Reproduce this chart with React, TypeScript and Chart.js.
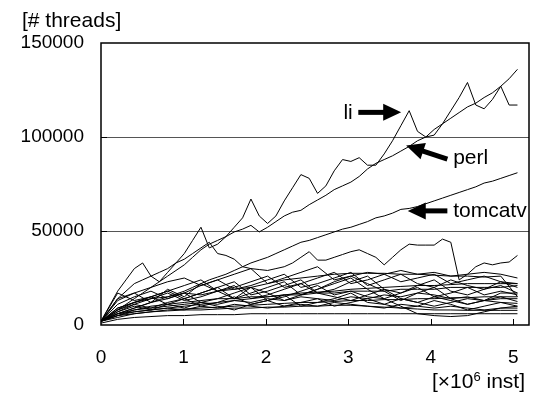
import React, { useEffect, useRef } from 'react';
import { Chart, registerables } from 'chart.js';

Chart.register(...registerables);

// ---- text ----
const Y_TITLE = '[# threads]';
const X_TITLE_MAIN = '[×10';
const X_TITLE_SUP = '6';
const X_TITLE_TAIL = ' inst]';

// ---- ticks ----
const X_TICKS = [0, 1, 2, 3, 4, 5];
const Y_TICKS = [0, 50000, 100000, 150000];
const GRID_VALUES = [50000, 100000];

// ---- sample spacing (x in 10^6 inst) ----
const FINE_STEP = 0.101;
const COARSE_STEP = 0.202;

// ---- labelled series (values in thousands of threads) ----
const LI = [2, 10, 18, 24, 30, 33, 26, 23, 28, 33, 38, 45, 52, 41, 43, 47, 52, 57, 67, 58, 54, 58, 66, 73, 80, 78, 70, 74, 82, 88, 87, 89, 85, 85, 91, 98, 106, 114, 103, 100, 101, 107, 114, 121, 129, 117, 115, 120, 127, 117, 117];
const PERL = [2, 5, 8, 11, 14, 17, 20, 23, 26, 29, 32, 36, 40, 43, 45, 47, 49.5, 51, 53, 49.5, 52, 55, 58, 60, 61, 64, 66.5, 69, 72, 74, 76, 79, 83, 86, 88, 90, 92.5, 95, 98, 100, 104, 107, 110, 113, 116, 118, 121, 123.5, 127, 131, 136];
const TOMCATV = [2, 4, 6, 7.5, 9, 10.5, 12, 13.5, 15, 16.5, 18, 20, 22, 24, 25.5, 27, 29, 31, 33, 34.5, 36, 38, 40, 42, 44, 45, 46.5, 48, 49.5, 51, 52, 53.5, 55, 57, 58, 59.5, 61.5, 62, 63, 64.5, 66, 67.5, 69, 70.5, 72, 73.5, 75.5, 76.5, 78, 79.5, 81];
const BENCH_A = [2, 8, 14, 18, 22, 24, 26, 28, 30, 33, 35, 38, 41, 44, 38, 37, 35, 31, 30, 29.5, 29, 30, 31, 33, 36, 39, 34.5, 34.5, 36, 37.5, 39, 40, 38, 36, 32, 36, 40, 43, 42.5, 42.5, 42.5, 45.7, 44, 24, 27, 31, 33, 32, 33, 33.5, 37];

// ---- other benchmarks (coarser sampling, thousands) ----
const C1 = [2, 14, 17, 20, 23, 25, 21, 24, 27, 30, 22, 25, 28, 31, 24, 26, 28, 27, 29, 27, 28, 26, 27, 28, 27, 25];
const C2 = [2, 9, 12, 14, 15, 17, 16, 18, 19, 20, 22, 24, 25, 26, 27, 27.5, 27.5, 27.5, 27, 27, 26.5, 26, 26, 25.5, 26, 15];
const C3 = [2, 8, 12, 15, 18, 21, 24, 18, 20, 23, 26, 20, 22, 25, 28, 22, 24, 27, 23, 25, 27, 22, 24, 26, 23, 22];
const C4 = [2, 7, 11, 14, 17, 13, 15, 18, 21, 14, 16, 19, 22, 17, 19, 23, 26, 19, 17, 21, 24, 18, 16, 19, 21, 17];
const C5 = [2, 6, 9, 12, 14, 17, 12, 14, 17, 20, 13, 15, 18, 21, 16, 18, 15, 14, 17, 20, 15, 17, 20, 16, 18, 16];
const C6 = [2, 5, 8, 9, 10, 11, 12, 11, 13, 12, 14, 13, 15, 14, 13, 15, 14, 16, 15, 17, 16, 14, 15, 13, 14, 14];
const C7 = [2, 17, 13, 15, 18, 14, 17, 20, 23, 16, 18, 21, 24, 17, 15, 13, 16, 19, 14, 12, 15, 13, 11, 13, 15, 12.5];
const C8 = [2, 8, 11, 9, 12, 14, 10, 12, 15, 11, 13, 16, 10, 12, 14, 17, 12, 11, 14, 12, 10, 12, 14, 13, 12, 11.5];
const C9 = [2, 7, 10, 8, 11, 9, 12, 10, 8, 11, 13, 10, 12, 14, 10, 12, 14, 11, 9, 10, 13, 11, 8, 10, 12, 10];
const C10 = [2, 6, 7, 8, 9, 8, 10, 9, 11, 10, 9, 10, 11, 10, 12, 11, 10, 9, 11, 10, 9, 10, 9, 8, 9, 9];
const C11 = [2, 5, 6, 7, 7.5, 8, 8, 8.5, 9, 9, 9.5, 9.5, 10, 10, 10.5, 10.5, 10, 9.5, 9, 8.5, 8, 8, 7.8, 7.8, 7.8, 7.8];
const C12 = [1, 3, 4, 4.5, 5, 5, 5.5, 5.5, 5.5, 6, 6, 6, 6, 6, 6, 6, 6, 6, 6, 6, 6, 6, 6, 6, 6, 6];
const C13 = [2, 9, 12, 15, 11, 14, 17, 20, 14, 17, 20, 23, 16, 19, 22, 25, 19, 14, 10, 6, 5, 4.5, 5, 7, 9, 10];
const C14 = [2, 11, 15, 18, 14, 17, 21, 24, 19, 21, 24, 27, 20, 22, 25, 28, 21, 24, 27, 22, 20, 24, 21, 19, 23, 20];
const C15 = [2, 4, 6, 7, 8, 8.5, 9, 9.5, 10, 10.5, 11, 11.5, 12, 12, 12.5, 13, 13, 13.5, 13.5, 14, 14, 14.5, 14.5, 15, 15, 15];
const C16 = [2, 5, 7, 8, 9, 10, 11, 12, 13, 14, 15, 16, 17, 17.5, 18, 19, 19.5, 20, 20.5, 21, 21, 21.5, 22, 22, 22, 22];
const C17 = [2, 13, 17, 12, 19, 15, 22, 18, 14, 20, 17, 13, 16, 19, 23, 26, 22, 18, 13, 17, 20, 14, 11, 13, 17, 17];
const C18 = [2, 6, 8, 10, 11, 12, 13, 14, 14, 15, 15, 16, 16, 17, 17, 18, 18, 18, 19, 19, 19, 20, 20, 20, 20, 21];

const FINE_SERIES = [LI, PERL, TOMCATV, BENCH_A];
const COARSE_SERIES = [C1, C2, C3, C4, C5, C6, C7, C8, C9, C10, C11, C12, C13, C14, C15, C16, C17, C18];

// ---- annotations (data coordinates) ----
const NOTES = [
  { text: 'li', x: 2.94, y: 109400, tail: [3.12, 113100], tip: [3.64, 113100] },
  { text: 'perl', x: 4.27, y: 85400, tail: [4.2, 88200], tip: [3.7, 95500] },
  { text: 'tomcatv', x: 4.27, y: 57500, tail: [4.2, 60700], tip: [3.72, 60700] },
];

const FONT_FAMILY = '"Liberation Sans", Arial, Helvetica, sans-serif';
const TICK_SIZE = 19;
const TEXT_SIZE = 21;

function toPoints(vals: number[], step: number) {
  return vals.map((v, i) => ({ x: +(i * step).toFixed(3), y: v * 1000 }));
}

const overlay = {
  id: 'overlay',
  afterDraw(chart: any) {
    const { ctx, chartArea: a, scales } = chart;
    const xs = scales.x;
    const ys = scales.y;
    ctx.save();
    ctx.strokeStyle = '#000';
    ctx.fillStyle = '#000';
    // inward ticks
    ctx.lineWidth = 1;
    X_TICKS.forEach((v) => {
      if (v === 0) return;
      const px = Math.round(xs.getPixelForValue(v)) + 0.5;
      ctx.beginPath();
      ctx.moveTo(px, a.bottom);
      ctx.lineTo(px, a.bottom - 6);
      ctx.stroke();
    });
    GRID_VALUES.forEach((v) => {
      const py = Math.round(ys.getPixelForValue(v)) + 0.5;
      ctx.beginPath();
      ctx.moveTo(a.left, py);
      ctx.lineTo(a.left + 6, py);
      ctx.stroke();
    });
    // frame
    ctx.lineWidth = 1.5;
    ctx.strokeRect(a.left, a.top, a.right - a.left, a.bottom - a.top);

    const mainFont = `${TEXT_SIZE}px ${FONT_FAMILY}`;
    const supFont = `13px ${FONT_FAMILY}`;

    // axis titles
    ctx.font = mainFont;
    ctx.textBaseline = 'alphabetic';
    ctx.textAlign = 'left';
    ctx.fillText(Y_TITLE, 22, 27);

    const w1 = ctx.measureText(X_TITLE_MAIN).width;
    const w3 = ctx.measureText(X_TITLE_TAIL).width;
    ctx.font = supFont;
    const w2 = ctx.measureText(X_TITLE_SUP).width;
    const right = 525;
    const start = right - (w1 + w2 + w3);
    const base = 388;
    ctx.font = mainFont;
    ctx.fillText(X_TITLE_MAIN, start, base);
    ctx.font = supFont;
    ctx.fillText(X_TITLE_SUP, start + w1, base - 7);
    ctx.font = mainFont;
    ctx.fillText(X_TITLE_TAIL, start + w1 + w2, base);

    // annotations with arrows
    NOTES.forEach((n) => {
      ctx.font = mainFont;
      ctx.fillText(n.text, xs.getPixelForValue(n.x), ys.getPixelForValue(n.y));
      const x0 = xs.getPixelForValue(n.tail[0]);
      const y0 = ys.getPixelForValue(n.tail[1]);
      const x1 = xs.getPixelForValue(n.tip[0]);
      const y1 = ys.getPixelForValue(n.tip[1]);
      const ang = Math.atan2(y1 - y0, x1 - x0);
      const headLen = 18;
      const headHalf = 8.5;
      const bx = x1 - headLen * Math.cos(ang);
      const by = y1 - headLen * Math.sin(ang);
      ctx.lineWidth = 5;
      ctx.lineCap = 'butt';
      ctx.beginPath();
      ctx.moveTo(x0, y0);
      ctx.lineTo(bx + Math.cos(ang), by + Math.sin(ang));
      ctx.stroke();
      ctx.beginPath();
      ctx.moveTo(x1, y1);
      ctx.lineTo(bx - headHalf * Math.sin(ang), by + headHalf * Math.cos(ang));
      ctx.lineTo(bx + headHalf * Math.sin(ang), by - headHalf * Math.cos(ang));
      ctx.closePath();
      ctx.fill();
    });
    ctx.restore();
  },
};

export default function App() {
  const ref = useRef<HTMLCanvasElement | null>(null);

  useEffect(() => {
    document.body.style.margin = '0';
    const canvas = ref.current;
    if (!canvas) return;
    const lineStyle = {
      borderColor: '#000',
      borderWidth: 1,
      pointRadius: 0,
      fill: false,
      tension: 0,
    };
    const datasets = [
      ...COARSE_SERIES.map((s) => ({ ...lineStyle, data: toPoints(s, COARSE_STEP) })),
      ...FINE_SERIES.map((s) => ({ ...lineStyle, data: toPoints(s, FINE_STEP) })),
    ];
    const tickFont = { family: FONT_FAMILY, size: TICK_SIZE };
    const chart = new Chart(canvas, {
      type: 'line',
      data: { datasets },
      options: {
        responsive: false,
        animation: false,
        devicePixelRatio: 1,
        layout: { padding: { left: 0, right: 4, top: 43, bottom: 0 } },
        plugins: { legend: { display: false }, tooltip: { enabled: false } },
        scales: {
          x: {
            type: 'linear',
            min: 0,
            max: 5.19,
            afterBuildTicks: (s: any) => {
              s.ticks = X_TICKS.map((v) => ({ value: v }));
            },
            afterFit: (s: any) => {
              s.height = 70;
            },
            grid: { display: false },
            border: { display: false },
            ticks: { font: tickFont, color: '#000', padding: 13, maxRotation: 0, callback: (v: any) => String(v) },
          },
          y: {
            type: 'linear',
            min: 0,
            max: 150000,
            afterBuildTicks: (s: any) => {
              s.ticks = Y_TICKS.map((v) => ({ value: v }));
            },
            afterFit: (s: any) => {
              s.width = 101;
            },
            grid: {
              drawTicks: false,
              lineWidth: 1,
              color: (c: any) => (c.tick && GRID_VALUES.includes(c.tick.value) ? '#555' : 'rgba(0,0,0,0)'),
            },
            border: { display: false },
            ticks: { font: tickFont, color: '#000', padding: 17, callback: (v: any) => String(v) },
          },
        },
      },
      plugins: [overlay],
    });
    return () => chart.destroy();
  }, []);

  return (
    <div style={{ width: 533, height: 395 }}>
      <canvas ref={ref} width={533} height={395} style={{ display: 'block' }} />
    </div>
  );
}
